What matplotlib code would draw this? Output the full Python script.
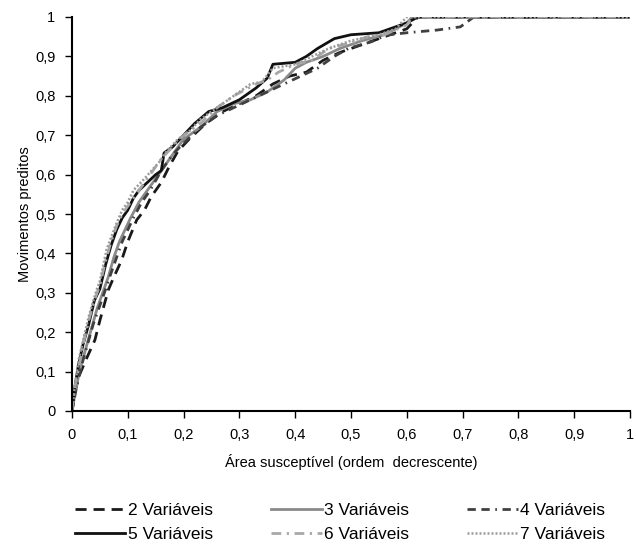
import matplotlib
matplotlib.use("Agg")
import matplotlib.pyplot as plt

plt.rcParams['font.family'] = ['Liberation Sans', 'DejaVu Sans']

# curvas de sucesso (area susceptivel x movimentos preditos)
x_2var = [0, 0.006, 0.012, 0.025, 0.041, 0.05, 0.065, 0.075, 0.089, 0.10, 0.116, 0.13, 0.142, 0.16, 0.174, 0.19,
          0.21, 0.24, 0.27, 0.30, 0.33, 0.36, 0.39, 0.42, 0.45, 0.48, 0.52, 0.56, 0.60, 0.62, 1.0]
y_2var = [0, 0.05, 0.087, 0.13, 0.18, 0.23, 0.307, 0.34, 0.383, 0.43, 0.485, 0.51, 0.544, 0.58, 0.62, 0.66,
          0.69, 0.73, 0.76, 0.78, 0.80, 0.83, 0.85, 0.86, 0.89, 0.91, 0.93, 0.95, 0.97, 1.0, 1.0]

x_3var = [0, 0.006, 0.015, 0.025, 0.035, 0.045, 0.055, 0.065, 0.075, 0.085, 0.095, 0.105, 0.12, 0.14, 0.16, 0.18,
          0.20, 0.23, 0.26, 0.29, 0.32, 0.35, 0.38, 0.40, 0.42, 0.45, 0.48, 0.52, 0.56, 0.60, 0.61, 1.0]
y_3var = [0, 0.05, 0.11, 0.16, 0.21, 0.26, 0.30, 0.34, 0.39, 0.43, 0.46, 0.49, 0.53, 0.57, 0.61, 0.65,
          0.69, 0.72, 0.76, 0.78, 0.79, 0.81, 0.84, 0.87, 0.885, 0.90, 0.92, 0.94, 0.955, 0.985, 1.0, 1.0]

x_4var = [0, 0.008, 0.018, 0.028, 0.038, 0.048, 0.058, 0.07, 0.08, 0.09, 0.10, 0.11, 0.125, 0.14, 0.16, 0.18,
          0.20, 0.23, 0.26, 0.29, 0.32, 0.35, 0.38, 0.41, 0.44, 0.47, 0.495, 0.536, 0.563, 0.60, 0.655, 0.696,
          0.72, 1.0]
y_4var = [0, 0.06, 0.12, 0.17, 0.22, 0.26, 0.30, 0.35, 0.39, 0.43, 0.46, 0.49, 0.53, 0.56, 0.61, 0.65,
          0.68, 0.72, 0.75, 0.77, 0.79, 0.81, 0.83, 0.85, 0.87, 0.90, 0.92, 0.937, 0.954, 0.96, 0.967, 0.975,
          1.0, 1.0]

x_5var = [0, 0.005, 0.012, 0.02, 0.03, 0.04, 0.05, 0.06, 0.07, 0.08, 0.09, 0.10, 0.11, 0.12, 0.135, 0.15, 0.16,
          0.165, 0.18, 0.20, 0.22, 0.245, 0.27, 0.30, 0.33, 0.35, 0.36, 0.40, 0.42, 0.44, 0.47, 0.50, 0.55, 0.57,
          0.60, 0.62, 1.0]
y_5var = [0, 0.06, 0.12, 0.17, 0.22, 0.28, 0.31, 0.37, 0.42, 0.46, 0.49, 0.51, 0.54, 0.56, 0.58, 0.60, 0.61,
          0.655, 0.67, 0.70, 0.73, 0.76, 0.77, 0.79, 0.82, 0.845, 0.88, 0.885, 0.90, 0.92, 0.945, 0.955, 0.96, 0.97,
          0.985, 1.0, 1.0]

x_6var = [0, 0.005, 0.012, 0.02, 0.03, 0.04, 0.05, 0.06, 0.07, 0.08, 0.09, 0.10, 0.12, 0.14, 0.16, 0.18, 0.20,
          0.23, 0.26, 0.29, 0.31, 0.33, 0.35, 0.37, 0.40, 0.43, 0.46, 0.50, 0.53, 0.56, 0.60, 0.61, 1.0]
y_6var = [0, 0.06, 0.11, 0.17, 0.23, 0.28, 0.32, 0.38, 0.43, 0.47, 0.50, 0.52, 0.56, 0.60, 0.64, 0.67, 0.70,
          0.73, 0.77, 0.80, 0.815, 0.83, 0.84, 0.86, 0.88, 0.89, 0.92, 0.935, 0.95, 0.955, 0.98, 1.0, 1.0]

x_7var = [0, 0.004, 0.012, 0.02, 0.03, 0.044, 0.05, 0.062, 0.07, 0.08, 0.09, 0.10, 0.11, 0.13, 0.157, 0.17, 0.19,
          0.21, 0.23, 0.25, 0.28, 0.30, 0.32, 0.34, 0.36, 0.40, 0.43, 0.46, 0.50, 0.55, 0.58, 0.60, 1.0]
y_7var = [0, 0.05, 0.13, 0.18, 0.24, 0.307, 0.33, 0.41, 0.44, 0.477, 0.51, 0.53, 0.56, 0.59, 0.633, 0.66, 0.69,
          0.71, 0.74, 0.76, 0.79, 0.81, 0.83, 0.835, 0.87, 0.88, 0.90, 0.92, 0.94, 0.955, 0.97, 1.0, 1.0]

ticks = [0, 0.1, 0.2, 0.3, 0.4, 0.5, 0.6, 0.7, 0.8, 0.9, 1]
tick_labels = ['0', '0,1', '0,2', '0,3', '0,4', '0,5', '0,6', '0,7', '0,8', '0,9', '1']

fig = plt.figure(figsize=(6.36, 5.45), dpi=100)
ax = fig.add_axes([72/636, 1 - 411/545, (630 - 72)/636, (411 - 17)/545])

l2, = ax.plot(x_2var, y_2var, color='#1a1a1a', lw=2.0, linestyle=(0, (4, 2.5)), label='2 Variáveis')
l3, = ax.plot(x_3var, y_3var, color='#8a8a8a', lw=2.0, label='3 Variáveis')
l4, = ax.plot(x_4var, y_4var, color='#404040', lw=2.0, linestyle=(0, (3, 2, 3, 2, 0.6, 2)), label='4 Variáveis')
l5, = ax.plot(x_5var, y_5var, color='#111111', lw=2.0, label='5 Variáveis')
l6, = ax.plot(x_6var, y_6var, color='#a8a8a8', lw=2.0, linestyle=(0, (3.5, 2, 0.8, 2)), label='6 Variáveis')
l7, = ax.plot(x_7var, y_7var, color='#9a9a9a', lw=1.8, linestyle=(0, (0.8, 0.8)), label='7 Variáveis')

ax.set_xlim(0, 1)
ax.set_ylim(0, 1)
ax.set_xticks(ticks)
ax.set_xticklabels(tick_labels)
ax.set_yticks(ticks)
ax.set_yticklabels(tick_labels)
ax.tick_params(labelsize=10.5, length=5, width=1, direction='out', pad=7)
for s in ['top', 'right']:
    ax.spines[s].set_visible(False)
for s in ['left', 'bottom']:
    ax.spines[s].set_linewidth(1.5)
ax.set_xlabel('Área susceptível (ordem  decrescente)', fontsize=10.5, labelpad=9)
ax.set_ylabel('Movimentos preditos', fontsize=10.5, labelpad=2)

# ordem das colunas: 2/5, 3/6, 4/7
fig.legend([l2, l5, l3, l6, l4, l7],
           ['2 Variáveis', '5 Variáveis', '3 Variáveis', '6 Variáveis', '4 Variáveis', '7 Variáveis'],
           ncol=3, loc='center', bbox_to_anchor=(0.535, 0.041), frameon=False, fontsize=12.5,
           handlelength=2.9, handletextpad=0.15, columnspacing=3.35, labelspacing=0.5)

fig.savefig('out.png', dpi=100)
